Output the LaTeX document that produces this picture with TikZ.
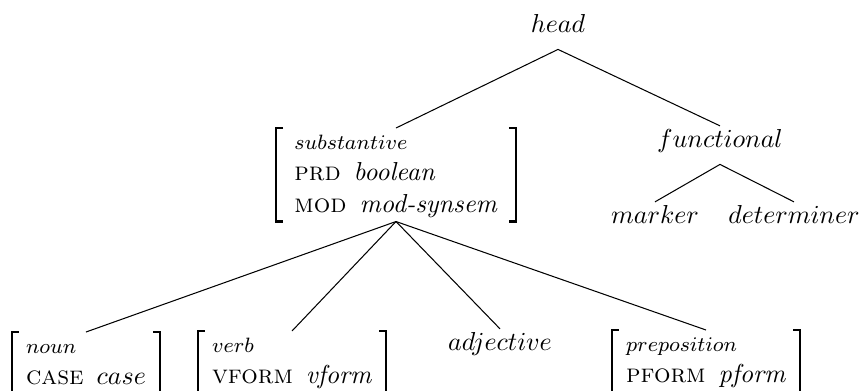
\documentclass[tikz,border=0pt]{standalone}
\tikzset{
  typ/.style={inner sep=1pt, text depth=5.5pt},
  avmbrack/.style={line width=0.9pt},
  avm/.style={inner xsep=5.5pt, inner ysep=0pt, outer sep=0pt,
    append after command={\pgfextra{%
      \draw[avmbrack] ([xshift=2.7pt]\tikzlastnode.north west) -| (\tikzlastnode.south west) -- ++(2.7pt,0);
      \draw[avmbrack] ([xshift=-2.7pt]\tikzlastnode.north east) -| (\tikzlastnode.south east) -- ++(-2.7pt,0);}}},
}
\newcommand{\avmtype}[1]{{\footnotesize$#1$}}
\newcommand{\avmfeat}[2]{\textsc{#1}\hspace{.5em}#2}
\begin{document}
\begin{tikzpicture}[x=0.385pt,y=-0.385pt]
  \useasboundingbox (0,0) rectangle (863,390);
  \clip (0,0) rectangle (863,390);
  %% top of the hierarchy
  \node[typ,anchor=base] (head) at (558,32) {$head$};
  \node[avm,inner xsep=7pt,anchor=north] (subst) at (396,128) {\begin{tabular}{@{}l@{}}\avmtype{substantive}\\
    \avmfeat{prd}{\textit{boolean}}\\
    \avmfeat{mod}{\textit{mod-synsem}}\end{tabular}};
  \node[typ,anchor=base] (func) at (720,147) {$functional$};
  \draw (head.south) -- (subst.north);
  \draw (head.south) -- (func.north);
  %% functional
  \node[typ,anchor=base] (mark) at (655,223) {$marker$};
  \node[typ,anchor=base] (det) at (794,223) {$determiner$};
  \foreach \c in {mark,det} \draw (func.south) -- (\c.north);
  %% substantive
  \node[avm,anchor=north] (noun) at (86,332) {\begin{tabular}{@{}l@{}}\avmtype{noun}\\
    \avmfeat{case}{$case$}\end{tabular}};
  \node[avm,anchor=north] (verb) at (292,331) {\begin{tabular}{@{}l@{}}\avmtype{verb}\\
    \avmfeat{vform}{\textit{vform}}\end{tabular}};
  \node[typ,anchor=base] (adj) at (500,350) {$adjective$};
  \node[avm,anchor=north] (prep) at (706,330) {\begin{tabular}{@{}l@{}}\avmtype{preposition}\\
    \avmfeat{pform}{\textit{pform}}\end{tabular}};
  \foreach \c in {noun,verb,adj,prep} \draw (subst.south) -- (\c.north);
\end{tikzpicture}
\end{document}
